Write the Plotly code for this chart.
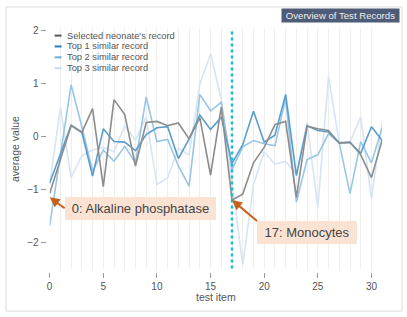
import plotly.graph_objects as go

items = list(range(32))
selected = [-1.07, -0.42, 0.21, 0.08, 0.53, -0.94, 0.70, 0.42, -0.55, 0.27, 0.29, 0.21, 0.26, -0.04, 0.36, -0.72,
            0.56, -1.19, -1.08, -0.49, -0.20, 0.23, 0.29, -1.14, 0.20, 0.15, 0.12, -0.12, -0.10, -0.34, -0.77, -0.06]
top1 = [-0.87, -0.33, 0.22, 0.09, -0.74, 0.15, -0.09, -0.10, -0.26, 0.04, 0.17, 0.19, -0.41, -0.04, 0.41, 0.14,
        0.37, -0.50, -0.15, 0.48, -0.10, 0.03, 0.80, -0.73, 0.21, 0.12, 0.09, -0.11, -0.11, -0.31, 0.19, -0.07]
top2 = [-1.68, -0.35, 0.98, 0.19, -0.65, -0.25, -0.46, -0.18, -0.49, 0.75, -0.09, -0.05, -0.55, -0.93, 0.80, 0.49,
        0.65, -0.62, -0.19, -0.07, -0.13, -0.17, 0.72, -1.23, -0.43, -0.34, 0.06, -0.12, -1.07, -0.09, -0.49, 0.17]
top3 = [-0.90, 0.55, -0.77, -0.36, -0.25, -0.20, -0.28, 0.20, -0.06, 0.37, -0.90, -0.77, -0.22, -0.34, 0.99, 1.57,
        0.70, -0.85, -2.42, -0.90, -0.28, -0.52, -0.46, -0.70, 0.27, -1.33, 1.14, -0.12, -0.10, 0.37, -1.17, 0.28]

series_names = ["Selected neonate's record", "Top 1 similar record", "Top 2 similar record", "Top 3 similar record"]
series_values = [selected, top1, top2, top3]
line_colors = ["#8c8c8c", "#5b9dca", "#98c6e5", "#d6e5f4"]
legend_colors = ["#555555", "#2c7bb6", "#6aaed6", "#c6dbef"]

x_ticks = [0, 5, 10, 15, 20, 25, 30]
y_ticks = [-2, -1, 0, 1, 2]
highlight_item = 17
annotations_info = [(0, "0: Alkaline phosphatase"), (17, "17: Monocytes")]

W, H = 407, 317
def px_x(p):
    return p / W
def px_y(p):
    return (H - p) / H

fig = go.Figure()
for name, vals, col in reversed(list(zip(series_names, series_values, line_colors))):
    fig.add_trace(go.Scatter(x=items, y=vals, mode="lines", name=name,
                             line=dict(color=col, width=1.6), showlegend=False,
                             hoverinfo="skip"))

# highlighted test item
fig.add_shape(type="line", xref="x", yref="y domain", x0=highlight_item, x1=highlight_item,
              y0=0, y1=0.99, line=dict(color="#17becf", width=2.5, dash="dot"))

# outer card border
fig.add_shape(type="rect", xref="paper", yref="paper", x0=px_x(3), x1=px_x(402), y0=px_y(311), y1=px_y(3),
              line=dict(color="#dcdcdc", width=1), layer="below")

annots = []
# legend (as text)
for k, (name, col) in enumerate(zip(series_names, legend_colors)):
    yy = 32 + 11 * k
    fig.add_shape(type="line", xref="paper", yref="paper", x0=px_x(52), x1=px_x(59),
                  y0=px_y(yy), y1=px_y(yy), line=dict(color=col, width=2))
    annots.append(dict(text=name, xref="paper", yref="paper", x=px_x(62), y=px_y(yy),
                       xanchor="left", yanchor="middle", showarrow=False,
                       font=dict(family="Liberation Sans, Arial", size=9.3, color="#555")))

# callouts
sel_lookup = dict(zip(items, selected))
callout_offsets = {0: (15, 11, 143, "middle", -0.07), 17: (25, 21, 92, "top", 0.0)}
for idx, txt in annotations_info:
    ax, ay, w, ya, dy = callout_offsets[idx]
    annots.append(dict(text=txt, x=idx, y=sel_lookup[idx] + dy, xref="x", yref="y",
                       showarrow=True, ax=ax, ay=ay, axref="pixel", ayref="pixel",
                       xanchor="left", yanchor=ya, width=w, height=15, borderpad=4,
                       bgcolor="#fbe3d4", bordercolor="rgba(0,0,0,0)", borderwidth=0,
                       arrowcolor="#c8601c", arrowwidth=2, arrowhead=2, arrowsize=1,
                       font=dict(family="Liberation Sans, Arial", size=13, color="#444")))

# title box
annots.append(dict(text="Overview of Test Records", xref="paper", yref="paper",
                   x=px_x(400), y=px_y(4), xanchor="right", yanchor="top", showarrow=False,
                   bgcolor="#4f5c77", borderpad=2, width=113, height=9,
                   font=dict(family="Liberation Sans, Arial", size=9.6, color="#eeeeee")))

# axis titles
annots.append(dict(text="test item", xref="paper", yref="paper", x=px_x(214.5), y=px_y(297),
                   xanchor="center", yanchor="middle", showarrow=False,
                   font=dict(family="Liberation Sans, Arial", size=10.5, color="#555")))
annots.append(dict(text="average value", xref="paper", yref="paper", x=px_x(12), y=px_y(147),
                   xanchor="center", yanchor="middle", showarrow=False, textangle=-90,
                   font=dict(family="Liberation Sans, Arial", size=10.5, color="#555")))

fig.update_layout(
    width=W, height=H, autosize=False,
    margin=dict(l=0, r=0, t=0, b=0),
    paper_bgcolor="white", plot_bgcolor="white",
    font=dict(family="Liberation Sans, Arial", size=10, color="#555"),
    annotations=annots,
    xaxis=dict(domain=[px_x(47), px_x(382)], range=[0, 31], anchor="free", position=px_y(271),
               tickmode="array", tickvals=x_ticks, ticks="outside", ticklen=5, tickcolor="#999",
               tickfont=dict(size=10, color="#555"),
               showgrid=True, gridcolor="#eeeeee", gridwidth=1, zeroline=False, showline=False,
               minor=dict(tickmode="linear", tick0=0, dtick=1, showgrid=True, gridcolor="#eeeeee",
                          gridwidth=1, ticks="")),
    yaxis=dict(domain=[px_y(268), px_y(25)], range=[-2.484, 2.037], anchor="free", position=px_x(43),
               tickmode="array", tickvals=y_ticks, ticks="outside", ticklen=5, tickcolor="#999",
               tickfont=dict(size=10, color="#555"),
               showgrid=False, zeroline=False, showline=False),
)

fig.write_html("out.html", config={"displayModeBar": False, "staticPlot": True},
               post_script="document.body.style.margin='0';document.body.style.overflow='hidden';")
